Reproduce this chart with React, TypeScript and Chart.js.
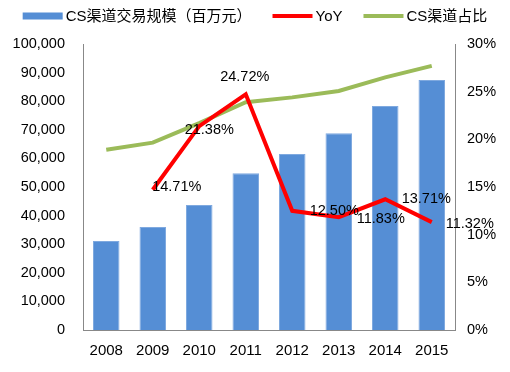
import React, { useEffect, useRef } from "react";
import { Chart, registerables } from "chart.js";

Chart.register(...registerables);

const years = ["2008", "2009", "2010", "2011", "2012", "2013", "2014", "2015"];
const volume = [31100, 36000, 43700, 54800, 61500, 68800, 78300, 87400];
const yoy = [null, 14.71, 21.38, 24.72, 12.5, 11.83, 13.71, 11.32];
const share = [18.9, 19.65, 21.7, 23.9, 24.4, 25.07, 26.5, 27.7];
const yoyLabels = ["", "14.71%", "21.38%", "24.72%", "12.50%", "11.83%", "13.71%", "11.32%"];

const FONT = "'Liberation Sans', Arial, 'Noto Sans CJK SC', sans-serif";

const labelOffsets = [
  [0, 0],
  [24, -3],
  [10, 4],
  [-1, -17],
  [42, 0],
  [42, 2],
  [41, 0],
  [38, 2],
];

const labelPlugin = {
  id: "yoyLabels",
  afterDatasetsDraw(chart: any) {
    const meta = chart.getDatasetMeta(1);
    const ctx = chart.ctx;
    ctx.save();
    ctx.font = `14.5px ${FONT}`;
    ctx.fillStyle = "#000";
    ctx.textAlign = "center";
    ctx.textBaseline = "middle";
    meta.data.forEach((pt: any, i: number) => {
      if (!yoyLabels[i]) return;
      const [dx, dy] = labelOffsets[i];
      ctx.fillText(yoyLabels[i], pt.x + dx, pt.y + dy);
    });
    ctx.restore();
  },
};

const legendPlugin = {
  id: "customLegend",
  afterDraw(chart: any) {
    const ctx = chart.ctx;
    const boxW = 40;
    const gapText = 3;
    const gapItem = 21;
    const cy = 16;
    ctx.save();
    ctx.font = `15px ${FONT}`;
    ctx.textBaseline = "middle";
    ctx.textAlign = "left";
    const items = chart.data.datasets.map((ds: any) => ({
      text: ds.label,
      color: ds.type === "bar" ? ds.backgroundColor : ds.borderColor,
      isBar: ds.type === "bar",
      tw: ctx.measureText(ds.label).width,
    }));
    const total =
      items.reduce((s: number, it: any) => s + boxW + gapText + it.tw, 0) + gapItem * (items.length - 1);
    let x = (chart.width - total) / 2;
    items.forEach((it: any) => {
      ctx.fillStyle = it.color;
      if (it.isBar) ctx.fillRect(x, cy - 3.5, boxW, 7);
      else ctx.fillRect(x, cy - 2, boxW, 4);
      ctx.fillStyle = "#000";
      ctx.fillText(it.text, x + boxW + gapText, cy + 1);
      x += boxW + gapText + it.tw + gapItem;
    });
    ctx.restore();
  },
};

export default function App() {
  const ref = useRef<HTMLCanvasElement>(null);
  useEffect(() => {
    document.body.style.margin = "0";
    const chart = new Chart(ref.current!, {
      type: "bar",
      data: {
        labels: years,
        datasets: [
          {
            type: "bar",
            label: "CS渠道交易规模（百万元）",
            data: volume,
            backgroundColor: "#558ED5",
            borderColor: "#7FA9DF",
            borderWidth: { top: 1, left: 1, right: 1, bottom: 0 },
            barPercentage: 0.57,
            categoryPercentage: 1,
            yAxisID: "y",
            order: 2,
          },
          {
            type: "line",
            label: "YoY",
            data: yoy,
            borderColor: "#FF0000",
            backgroundColor: "#FF0000",
            borderWidth: 4,
            pointRadius: 0,
            tension: 0,
            yAxisID: "y1",
            order: 0,
          },
          {
            type: "line",
            label: "CS渠道占比",
            data: share,
            borderColor: "#9BBB59",
            backgroundColor: "#9BBB59",
            borderWidth: 4,
            pointRadius: 0,
            tension: 0,
            yAxisID: "y1",
            order: 1,
          },
        ] as any,
      },
      options: {
        animation: false,
        responsive: false,
        layout: { padding: { left: 0, right: 0, top: 44, bottom: 0 } },
        plugins: {
          tooltip: { enabled: false },
          legend: { display: false },
        },
        scales: {
          x: {
            grid: { display: false, drawTicks: false },
            border: { color: "#888", width: 1 },
            ticks: { font: { family: FONT, size: 15 }, color: "#000", padding: 12 },
            afterFit: (s: any) => {
              s.height = 42;
            },
          },
          y: {
            position: "left",
            min: 0,
            max: 100000,
            grid: { display: false, drawTicks: false },
            border: { color: "#888", width: 1 },
            ticks: {
              stepSize: 10000,
              font: { family: FONT, size: 14.5 },
              color: "#000",
              padding: 18,
              callback: (v: any) => Number(v).toLocaleString("en-US"),
            },
            afterFit: (s: any) => {
              s.width = 83;
            },
          },
          y1: {
            position: "right",
            min: 0,
            max: 30,
            grid: { display: false, drawTicks: false },
            border: { color: "#888", width: 1 },
            ticks: {
              stepSize: 5,
              font: { family: FONT, size: 14.5 },
              color: "#000",
              padding: 12,
              callback: (v: any) => `${v}%`,
            },
            afterFit: (s: any) => {
              s.width = 55;
            },
          },
        },
      },
      plugins: [labelPlugin, legendPlugin],
    });
    return () => chart.destroy();
  }, []);
  return (
    <div style={{ width: 510, height: 372 }}>
      <canvas ref={ref} width={510} height={372} />
    </div>
  );
}
